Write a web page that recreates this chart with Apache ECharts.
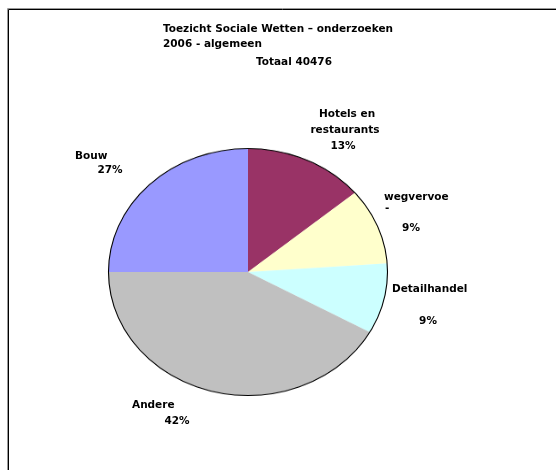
<!DOCTYPE html>
<html>
<head>
<meta charset="utf-8">
<script src="https://cdn.jsdelivr.net/npm/echarts@6/dist/echarts.min.js"></script>
<style>
html, body { margin: 0; padding: 0; background: #fff; }
#wrap { position: relative; width: 556px; height: 470px; overflow: hidden; }
#text, #pie { position: absolute; left: 0; top: 0; width: 556px; height: 470px; }
/* Excel draws the pie slightly squashed, so scale the pie layer vertically */
#pie { transform-origin: 248px 272px; transform: scaleY(0.885); }
</style>
</head>
<body>
<div id="wrap"><div id="text"></div><div id="pie"></div></div>
<script>
var titleLines = ["Toezicht Sociale Wetten \u2013 onderzoeken", "2006 - algemeen"];
var totalText = "Totaal 40476";
var sectors = ["Hotels en restaurants", "wegvervoer", "Detailhandel", "Andere sectoren", "Bouw"];
// slice shares as drawn in the picture
var shares = [13.9, 10.0, 9.2, 41.9, 25.0];
// percentages as printed in the labels
var pctLabels = ["13%", "9%", "9%", "42%", "27%"];
var colors = ["#993366", "#FFFFCC", "#CCFFFF", "#C0C0C0", "#9999FF"];

var font = "'DejaVu Sans', Verdana, sans-serif";
function txt(s, x, y, align) {
    return {
        type: "text", x: x, y: y, silent: true,
        style: { text: s, fill: "#000", font: "bold 10.5px " + font,
                 textAlign: align || "center", textVerticalAlign: "middle" }
    };
}

// label lines as Excel wrapped them
var labelLines = [
    [["Hotels en", 347, 114], ["restaurants", 345, 130], [pctLabels[0], 343, 146]],
    [["wegvervoe", 384, 197, "left"], ["-", 385, 208, "left"], [pctLabels[1], 411, 228]],
    [["Detailhandel", 392, 289, "left"], [pctLabels[2], 428, 321]],
    [["Andere", 132, 405, "left"], [pctLabels[3], 177, 421]],
    [["Bouw", 75, 156, "left"], [pctLabels[4], 110, 170]]
];

var g = [
    { type: "line", silent: true, shape: { x1: 7.5, y1: 8.5, x2: 560, y2: 8.5 }, style: { stroke: "#999", lineWidth: 1 } },
    { type: "line", silent: true, shape: { x1: 7.5, y1: 8.5, x2: 7.5, y2: 480 }, style: { stroke: "#999", lineWidth: 1 } },
    { type: "rect", silent: true, shape: { x: 8.5, y: 9.5, width: 600, height: 600 }, style: { fill: "none", stroke: "#000", lineWidth: 1 } },
    txt(titleLines[0], 163, 29, "left"),
    txt(titleLines[1], 163, 44, "left"),
    txt(totalText, 294, 62)
];
labelLines.forEach(function (lines) {
    lines.forEach(function (l) { g.push(txt(l[0], l[1], l[2], l[3])); });
});

var t = echarts.init(document.getElementById("text"));
t.setOption({ animation: false, graphic: g });

var p = echarts.init(document.getElementById("pie"));
p.setOption({
    animation: false,
    color: colors,
    graphic: [{
        type: "circle", silent: true, z: 100,
        shape: { cx: 248, cy: 272, r: 139.5 },
        style: { fill: "none", stroke: "#000", lineWidth: 1.1 }
    }],
    series: [{
        type: "pie",
        center: [248, 272],
        radius: 139.5,
        startAngle: 90,
        clockwise: true,
        label: { show: false },
        labelLine: { show: false },
        emphasis: { disabled: true },
        itemStyle: { borderWidth: 0 },
        data: sectors.map(function (s, i) { return { name: s, value: shares[i] }; })
    }]
});
</script>
</body>
</html>
